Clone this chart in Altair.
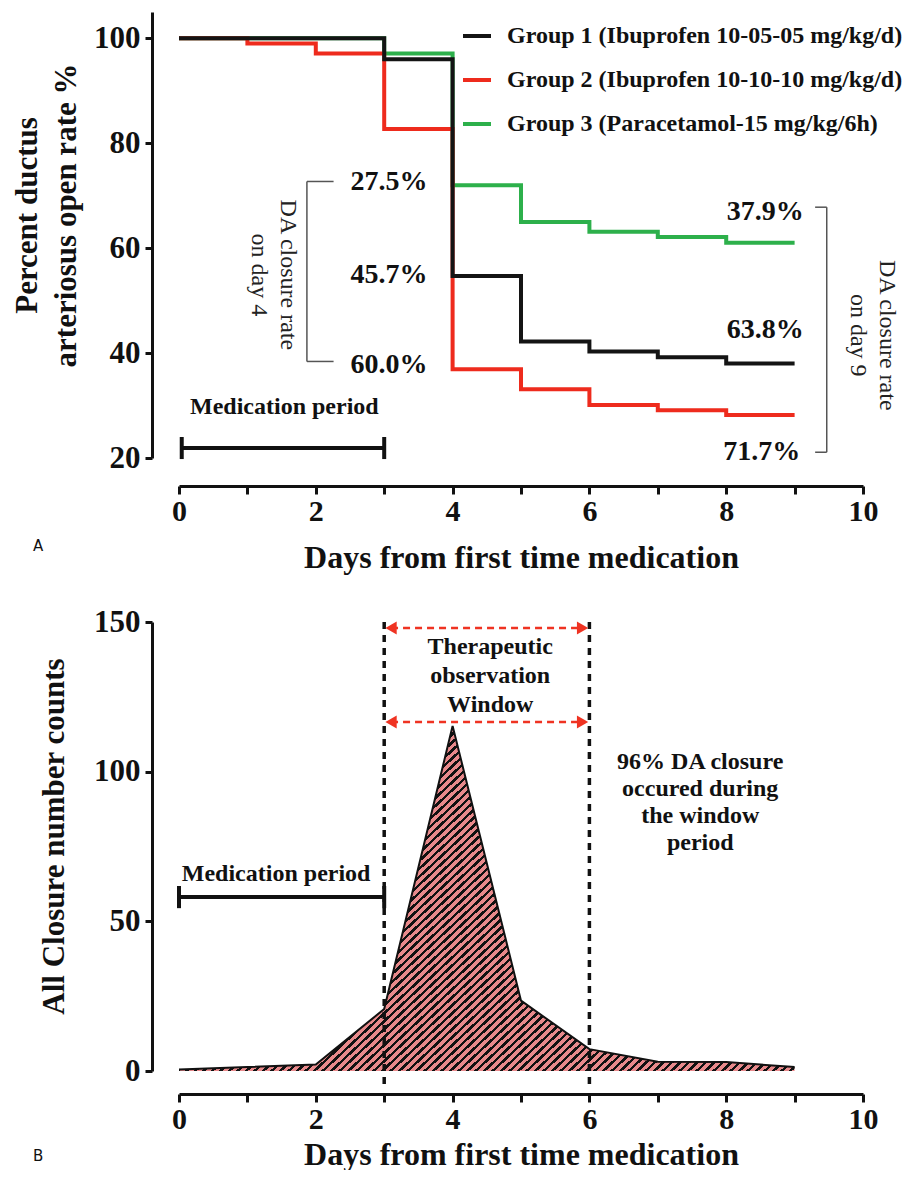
import altair as alt
import pandas as pd

# ---------------- data ----------------
days = [0, 1, 2, 3, 4, 5, 6, 7, 8, 9]
group_names = [
    "Group 1 (Ibuprofen 10-05-05 mg/kg/d)",
    "Group 2 (Ibuprofen 10-10-10 mg/kg/d)",
    "Group 3  (Paracetamol-15 mg/kg/6h)",
]
group1_open = [100, 100, 100, 96.0, 54.7, 42.2, 40.3, 39.2, 38.0, 38.0]
group2_open = [100, 99.0, 97.1, 82.7, 36.9, 33.1, 30.1, 29.1, 28.2, 28.2]
group3_open = [100, 100, 100, 97.1, 72.0, 65.0, 63.1, 62.1, 61.0, 61.0]
group_colors = ["#141414", "#EE2B1D", "#2DB04B"]

closure_counts = [0.5, 1.3, 2.2, 20.7, 115.3, 23.5, 7.3, 3.1, 3.0, 1.3]

day4_labels = ["27.5%", "45.7%", "60.0%"]
day4_label_day = [3.07, 3.07, 3.07]
day4_label_val = [72.6, 54.9, 37.7]
day9_labels = ["37.9%", "63.8%", "71.7%"]
day9_label_day = [8.57, 8.57, 8.52]
day9_label_val = [66.9, 44.4, 21.1]

# bracket segments (x, x2, y, y2) in data units
bracket_day = [1.87, 1.87, 1.87, 9.30, 9.47, 9.30]
bracket_day2 = [2.26, 1.87, 2.26, 9.47, 9.47, 9.47]
bracket_val = [72.7, 72.7, 38.4, 67.8, 67.8, 21.1]
bracket_val2 = [72.7, 38.4, 38.4, 67.8, 21.1, 21.1]

rot_labels = ["DA closure rate\non day 4", "DA closure rate\non day 9"]
rot_day = [1.59, 10.35]
rot_val = [54.9, 43.4]

# medication period bars (top panel)
med_top_day = [0.04, 0.04, 3.0]
med_top_day2 = [3.0, 0.04, 3.0]
med_top_val = [21.9, 19.8, 19.8]
med_top_val2 = [21.9, 24.0, 24.0]

# bottom panel annotations
window_days = [3, 6]
arrow_val = [148.0, 116.6]
arrow_day = [3.1, 5.9]
head_day = [3.1, 5.9, 3.1, 5.9]
head_val = [148.0, 148.0, 116.6, 116.6]
head_shape = ["triangle-left", "triangle-right", "triangle-left", "triangle-right"]

med_bot_day = [0.0, 0.0, 3.0]
med_bot_day2 = [3.0, 0.0, 3.0]
med_bot_val = [58.1, 54.4, 54.4]
med_bot_val2 = [58.1, 61.8, 61.8]

window_text = ["Therapeutic\nobservation\nWindow"]
window_text_day = [4.55]
window_text_val = [141.7]
share_text = ["96% DA closure\noccured during\nthe window\nperiod"]
share_text_day = [7.62]
share_text_val = [103.2]
med_bot_text_day = [1.42]
med_bot_text_val = [65.8]

# ---------------- layout constants ----------------
W = 684
H_TOP = 446
H_BOT = 449
X_OFF_TOP = 28
X_OFF_BOT = 23
SERIF = "Liberation Serif"
PINK = "#E8898B"
RED = "#EF3322"

# ---------------- shared encodings ----------------
def x_enc(offset, title_pad):
    return alt.X(
        "day:Q",
        scale=alt.Scale(domain=[0, 10], nice=False, zero=False),
        axis=alt.Axis(
            values=list(range(11)),
            labelExpr="datum.value % 2 === 0 ? datum.label : ''",
            title="Days from first time medication",
            offset=offset,
            titlePadding=title_pad,
            labelFont=SERIF, titleFont=SERIF,
            labelFontWeight="bold", titleFontWeight="bold",
            labelFontSize=30, titleFontSize=32,
            tickSize=8, labelPadding=2, labelFlush=False,
        ),
    )

def y_axis(values, title, **kw):
    return alt.Axis(
        values=values, title=title, offset=27,
        labelFont=SERIF, titleFont=SERIF,
        labelFontWeight="bold", titleFontWeight="bold",
        labelFontSize=31, titleFontSize=31,
        tickSize=7, labelPadding=5, **kw,
    )

y_top = alt.Y(
    "value:Q",
    scale=alt.Scale(domain=[20, 105], nice=False, zero=False),
    axis=y_axis([20, 40, 60, 80, 100], ["Percent  ductus", "arteriosus open rate %"],
                titleLineHeight=39, titlePadding=11, titleY=203),
)
y_bot = alt.Y(
    "value:Q",
    scale=alt.Scale(domain=[0, 150], nice=False, zero=False),
    axis=y_axis([0, 50, 100, 150], "All  Closure number counts",
                titlePadding=23, titleY=214),
)
x_top = x_enc(X_OFF_TOP, 16)
x_bot = x_enc(X_OFF_BOT, 5)

# ---------------- top panel ----------------
km = pd.DataFrame({
    "day": days * 3,
    "value": group1_open + group2_open + group3_open,
    "group": [g for g in group_names for _ in days],
})
color = alt.Color(
    "group:N",
    scale=alt.Scale(domain=group_names, range=group_colors),
    legend=alt.Legend(
        title=None, orient="none", legendX=282, legendY=8, direction="vertical",
        symbolType="stroke", symbolStrokeWidth=4, symbolSize=784,
        labelFont=SERIF, labelFontWeight="bold", labelFontSize=24, labelColor="#111",
        labelLimit=600, labelOffset=14, rowPadding=16, padding=0,
    ),
)

def km_layer(name):
    return (
        alt.Chart(km)
        .transform_filter(alt.datum.group == name)
        .mark_line(interpolate="step-after", strokeWidth=4)
        .encode(x=x_top, y=y_top, color=color)
    )

brackets = pd.DataFrame({"day": bracket_day, "day2": bracket_day2,
                         "value": bracket_val, "value2": bracket_val2})
bracket_layer = alt.Chart(brackets).mark_rule(color="#555", strokeWidth=1.5).encode(
    x=x_top, x2="day2:Q", y=y_top, y2="value2:Q")

pct = pd.DataFrame({"day": day4_label_day + day9_label_day,
                    "value": day4_label_val + day9_label_val,
                    "label": day4_labels + day9_labels})
pct_layer = alt.Chart(pct).mark_text(
    font=SERIF, fontWeight="bold", fontSize=28, color="#111", baseline="middle"
).encode(x=x_top, y=y_top, text="label:N")

rot = pd.DataFrame({"day": rot_day, "value": rot_val, "label": rot_labels})
rot_layer = alt.Chart(rot).mark_text(
    font=SERIF, fontSize=24, color="#222", angle=90, lineBreak="\n",
    lineHeight=29, align="center", baseline="middle"
).encode(x=x_top, y=y_top, text="label:N")

med_top = pd.DataFrame({"day": med_top_day, "day2": med_top_day2,
                        "value": med_top_val, "value2": med_top_val2})
med_top_layer = alt.Chart(med_top).mark_rule(color="#111", strokeWidth=4).encode(
    x=x_top, x2="day2:Q", y=y_top, y2="value2:Q")
med_top_text = alt.Chart(pd.DataFrame({"day": [1.54], "value": [29.7],
                                       "label": ["Medication period"]})).mark_text(
    font=SERIF, fontWeight="bold", fontSize=24, color="#111"
).encode(x=x_top, y=y_top, text="label:N")

panel_a = alt.Chart(pd.DataFrame({"day": [-2.06], "value": [3.2], "label": ["A"]})).mark_text(
    font="DejaVu Sans", fontSize=15, color="#111").encode(x=x_top, y=y_top, text="label:N")

top = alt.layer(
    km_layer(group_names[2]), km_layer(group_names[1]), km_layer(group_names[0]),
    bracket_layer, pct_layer, rot_layer, med_top_layer, med_top_text, panel_a,
).properties(width=W, height=H_TOP)

# ---------------- bottom panel ----------------
counts = pd.DataFrame({"day": days, "value": closure_counts})

# diagonal hatch built as a striped linear gradient over the area's bounding box
area_w = W * (max(days) - min(days)) / 10.0
area_h = H_BOT * max(closure_counts) / 150.0 + X_OFF_BOT
k = 1.0                     # slope of stripes (45 degrees)
c = 1.0 / (k * area_w + area_h)
r = k * area_w / area_h
gy = (k * area_w + area_h) / (area_h * (r * r + 1))
gx = r * gy
period = c * k * 8.5        # horizontal stripe period in px
stops = []
t = 0.0
while t < 1.0:
    tb = min(t + 0.42 * period, 1.0)
    te = min(t + period, 1.0)
    stops += [
        {"offset": round(t, 6), "color": "#111111"},
        {"offset": round(tb, 6), "color": "#111111"},
        {"offset": round(tb, 6), "color": PINK},
        {"offset": round(te, 6), "color": PINK},
    ]
    t += period
hatch = {"gradient": "linear", "x1": 0, "y1": 0, "x2": round(gx, 5), "y2": round(gy, 5),
         "stops": stops}

area_layer = alt.Chart(counts).mark_area(fill=hatch, strokeWidth=0).encode(
    x=x_bot, y=y_bot, y2=alt.value(H_BOT + X_OFF_BOT))
outline_layer = alt.Chart(counts).mark_line(color="#111", strokeWidth=2).encode(
    x=x_bot, y=y_bot)

vlines = pd.DataFrame({"day": window_days, "value": [150, 150]})
vline_layer = alt.Chart(vlines).mark_rule(
    color="#111", strokeWidth=3.5, strokeDash=[7, 6]
).encode(x=x_bot, y=y_bot, y2=alt.value(H_BOT + X_OFF_BOT - 4))

arrows = pd.DataFrame({"day": [arrow_day[0]] * 2, "day2": [arrow_day[1]] * 2,
                       "value": arrow_val})
arrow_layer = alt.Chart(arrows).mark_rule(
    color=RED, strokeWidth=2.5, strokeDash=[7, 5]
).encode(x=x_bot, x2="day2:Q", y=y_bot)
heads = pd.DataFrame({"day": head_day, "value": head_val, "shape": head_shape})
head_layer = alt.Chart(heads).mark_point(
    filled=True, color=RED, size=170, opacity=1
).encode(x=x_bot, y=y_bot, shape=alt.Shape("shape:N", scale=None))

med_bot = pd.DataFrame({"day": med_bot_day, "day2": med_bot_day2,
                        "value": med_bot_val, "value2": med_bot_val2})
med_bot_layer = alt.Chart(med_bot).mark_rule(color="#111", strokeWidth=4).encode(
    x=x_bot, x2="day2:Q", y=y_bot, y2="value2:Q")

def bottom_text(days_, vals, labels, line_h):
    df = pd.DataFrame({"day": days_, "value": vals, "label": labels})
    return alt.Chart(df).mark_text(
        font=SERIF, fontWeight="bold", fontSize=24, color="#111", lineBreak="\n",
        lineHeight=line_h, baseline="middle"
    ).encode(x=x_bot, y=y_bot, text="label:N")

window_layer = bottom_text(window_text_day, window_text_val, window_text, 29)
share_layer = bottom_text(share_text_day, share_text_val, share_text, 27)
med_bot_text = bottom_text(med_bot_text_day, med_bot_text_val, ["Medication period"], 27)

panel_b = alt.Chart(pd.DataFrame({"day": [-2.06], "value": [-28.4], "label": ["B"]})).mark_text(
    font="DejaVu Sans", fontSize=15, color="#111").encode(x=x_bot, y=y_bot, text="label:N")

bottom = alt.layer(
    area_layer, outline_layer, vline_layer, arrow_layer, head_layer,
    med_bot_layer, window_layer, share_layer, med_bot_text, panel_b,
).properties(width=W, height=H_BOT)

chart = (
    alt.vconcat(top, bottom, spacing=33)
    .properties(padding={"left": 3, "top": 4, "right": 0, "bottom": 0}, background="white")
    .configure_view(stroke=None)
    .configure_axis(
        domainColor="#111", domainWidth=3, tickColor="#111", tickWidth=3,
        labelColor="#111", titleColor="#111", grid=False,
    )
)

chart.save("out.html", embed_options={"renderer": "svg", "actions": False})
